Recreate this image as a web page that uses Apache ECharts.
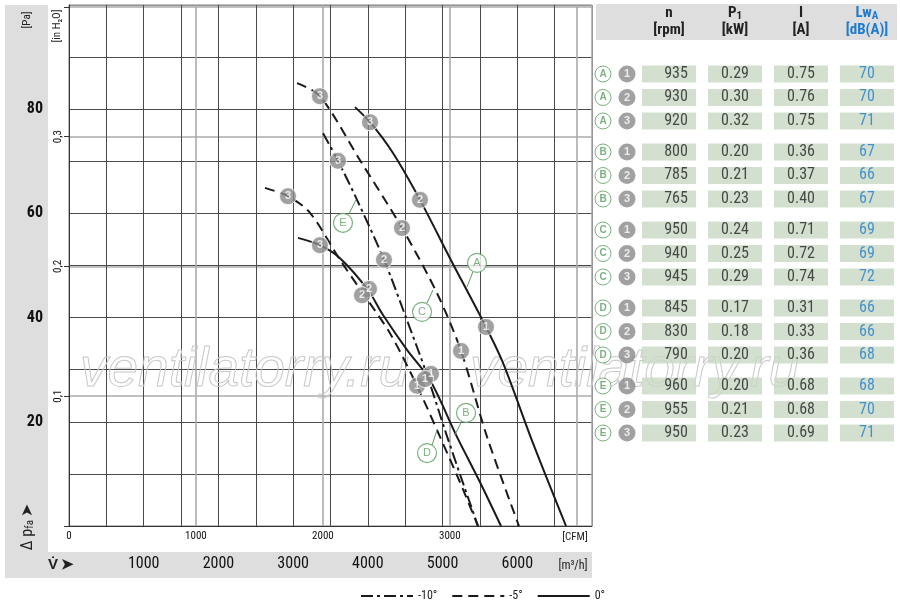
<!DOCTYPE html>
<html><head><meta charset="utf-8">
<script src="https://cdn.jsdelivr.net/npm/echarts@6/dist/echarts.min.js"></script>
<style>html,body{margin:0;padding:0;background:#fff}#c{width:900px;height:600px}</style>
</head><body><div id="c"></div>
<script>
// ---- fan curves: [airflow m3/h, static pressure Pa] ----
const curveA = [[3828,80.4],[4029,77.5],[4336,71.6],[4698,62.6],[5099,51.4],[5581,38.2],[5809,31.3],[6210,15.9],[6652,0]];
const curveB = [[3065,55.3],[3359,53.9],[3627,51.4],[4002,45.3],[4203,40.5],[4524,33.8],[4832,28.0],[5193,17.1],[5501,8.4],[5782,0]];
const curveC = [[3052,85.0],[3359,82.5],[3895,70.2],[4457,57.2],[4925,44.7],[5247,33.6],[5595,17.1],[6023,0]];
const curveD = [[2623,64.9],[2931,63.3],[3226,60.1],[3627,51.1],[3922,44.9],[4296,37.0],[4658,26.9],[4966,17.1],[5233,8.4],[5474,0]];
const curveE = [[3400,75.4],[3600,70.1],[3855,62.6],[4216,51.1],[4524,39.5],[4792,29.0],[5032,18.4],[5260,8.8],[5474,0]];
// operating points 1,2,3 on each curve
const pointsA = [[5581,38.2,'1'],[4698,62.6,'2'],[4029,77.5,'3']];
const pointsB = [[4845,29.2,'1'],[4015,45.5,'2'],[3359,53.9,'3']];
const pointsC = [[5247,33.6,'1'],[4457,57.2,'2'],[3359,82.5,'3']];
const pointsD = [[4658,26.9,'1'],[3922,44.3,'2'],[2931,63.3,'3']];
const pointsE = [[4765,28.2,'1'],[4216,51.1,'2'],[3600,70.1,'3']];
// curve tags (letter bubble + leader line end points)
const tagLetters = ['A','B','C','D','E'];
const tagPos = [[5461,50.5],[5314,21.7],[4725,41.1],[4792,14.0],[3667,58.2]];
const tagLeaders = [[[5407,48.8],[5327,45.9]],[[5260,20.2],[5166,17.5]],[[4792,42.8],[4872,45.3]],[[4859,15.5],[4926,18.4]],[[3748,59.9],[3841,62.6]]];
// angle of blades per curve
const curveAngles = ['0°','0°','-5°','-5°','-10°'];
const legendNames = ['-10°','-5°','0°'];
// axis ticks
const m3hTicks = [1000,2000,3000,4000,5000,6000];
const cfmTicks = [0,1000,2000,3000];
const paTicks = [20,40,60,80];
const inH2OTicks = [0.1,0.2,0.3];
// table data (rows grouped by curve A..E, points 1..3)
const rpm      = [[935,930,920],[800,785,765],[950,940,945],[845,830,790],[960,955,950]];
const powerKW  = [['0.29','0.30','0.32'],['0.20','0.21','0.23'],['0.24','0.25','0.29'],['0.17','0.18','0.20'],['0.20','0.21','0.23']];
const currentA = [['0.75','0.76','0.75'],['0.36','0.37','0.40'],['0.71','0.72','0.74'],['0.31','0.33','0.36'],['0.68','0.68','0.69']];
const soundLw  = [[70,70,71],[67,66,67],[69,69,72],[66,66,68],[68,70,71]];
const tableCols = ['', 'n', 'P1', 'I', 'LwA'];

const FONT = '"Liberation Sans Narrow","Roboto Condensed","Arial Narrow","Liberation Sans",sans-serif';
const GREEN = '#5a9e5f';
const BADGE = '#8a8a8a';
const BLUE = '#1f7ccc';
const CFM_PER_M3H = 1/1.699;
const PA_PER_INH2O = 249.089;

const chart = echarts.init(document.getElementById('c'));

const curves = [curveA, curveB, curveC, curveD, curveE];
const dashFor = {'0°':'solid','-5°':[10,6],'-10°':[12,4,3,4]};
const lineSeries = curves.map((d,i) => ({
  type:'line', name: curveAngles[i], data: d, smooth: 0.3, showSymbol:false, symbol:'none',
  xAxisIndex:0, yAxisIndex:0, z:3,
  lineStyle:{color:'#1a1a1a', width:2, type: dashFor[curveAngles[i]]},
  itemStyle:{color:'#1a1a1a'}
}));

const allPoints = [].concat(pointsA, pointsB, pointsC, pointsD, pointsE);
const badgeSeries = {
  type:'scatter', data: allPoints, xAxisIndex:0, yAxisIndex:0, symbolSize:17, z:5,
  itemStyle:{color:BADGE, borderColor:'#fff', borderWidth:1},
  label:{show:true, position:'inside', formatter:p=>p.value[2], color:'#fff', fontWeight:'bold', fontSize:11, fontFamily:'Liberation Sans'},
  silent:true
};
const leaderData = [];
tagLeaders.forEach(seg => { leaderData.push(seg[0], seg[1], null); });
const leaderSeries = {
  type:'line', data: leaderData, xAxisIndex:0, yAxisIndex:0, symbol:'none', connectNulls:false, z:4,
  lineStyle:{color:GREEN, width:1}, silent:true
};
const tagSeries = {
  type:'scatter', data: tagPos.map((p,i)=>[p[0],p[1],tagLetters[i]]), xAxisIndex:0, yAxisIndex:0, symbolSize:19, z:5,
  itemStyle:{color:'#fff', borderColor:GREEN, borderWidth:1.2},
  label:{show:true, position:'inside', formatter:p=>p.value[2], color:GREEN, fontSize:11, fontFamily:'Liberation Sans'},
  silent:true
};

// table rows: y = group*3.32 + index
const GROUP_STEP = 3.32;
const rowY = (g,i) => g*GROUP_STEP + i;
const tableSeries = [];
const cols = [rpm, powerKW, currentA, soundLw];
cols.forEach((arr, c) => {
  const data = [];
  arr.forEach((grp,g)=>grp.forEach((v,i)=>data.push([c+1, rowY(g,i), String(v)])));
  tableSeries.push({
    type:'scatter', xAxisIndex:2, yAxisIndex:2, data, symbol:'rect', symbolSize:[54,17], clip:false, z:2,
    itemStyle:{color:'#c8d8c4'},
    label:{show:true, position:'inside', formatter:p=>p.value[2], fontSize:16, fontFamily:FONT,
      color: c===3 ? BLUE : '#222', offset: c===0 ? [7,0] : [0,0]},
    silent:true
  });
});
const letterRows = [], numRows = [];
tagLetters.forEach((L,g)=>{ for(let i=0;i<3;i++){ letterRows.push([0,rowY(g,i),L]); numRows.push([0,rowY(g,i),String(i+1)]); } });
tableSeries.push({
  type:'scatter', xAxisIndex:2, yAxisIndex:2, data:letterRows, symbolSize:16, clip:false, z:2,
  itemStyle:{color:'#fff', borderColor:GREEN, borderWidth:1},
  label:{show:true, position:'inside', formatter:p=>p.value[2], color:GREEN, fontSize:10, fontWeight:'bold', fontFamily:'Liberation Sans'},
  silent:true
});
tableSeries.push({
  type:'scatter', xAxisIndex:2, yAxisIndex:2, data:numRows, symbolSize:17, symbolOffset:[24,0], clip:false, z:2,
  itemStyle:{color:BADGE},
  label:{show:true, position:'inside', formatter:p=>p.value[2], color:'#fff', fontSize:11, fontWeight:'bold', fontFamily:'Liberation Sans'},
  silent:true
});

const headerFmt = {
  'n':'{h|n}\n{h|[rpm]}',
  'P1':'{h|P}{s|1}\n{h|[kW]}',
  'I':'{h|I}\n{h|[A]}',
  'LwA':'{b|Lw}{bs|A}\n{b|[dB(A)]}',
  '':''
};

const wm = (x) => ({type:'text', x, y:398, z:1, silent:true,
  style:{text:'ventilatorry.ru', font:'italic 55px "Liberation Sans", sans-serif', fill:'rgba(255,255,255,0)', stroke:'#c8c8c8', lineWidth:1, verticalAlign:'bottom'}});

const option = {
  animation:false,
  backgroundColor:'#fff',
  textStyle:{fontFamily:FONT},
  grid:[
    {left:69, top:5, width:523, height:521},
    {left:570, top:74, width:331, height:359}
  ],
  legend:{
    data:legendNames, left:355, top:585, itemWidth:52, itemHeight:10, itemGap:14,
    itemStyle:{opacity:0},
    textStyle:{fontSize:12, color:'#222', fontFamily:FONT}, selectedMode:false
  },
  xAxis:[
    {gridIndex:0, type:'value', min:0, max:7000, interval:500, position:'bottom', offset:0,
     axisLine:{show:true, lineStyle:{color:'#333', width:1}}, axisTick:{show:false},
     axisLabel:{margin:30, fontSize:16, color:'#111', fontFamily:FONT,
       formatter:v=> m3hTicks.includes(v) ? String(v) : ''},
     splitLine:{show:true, lineStyle:{color:'#4a4a4a', width:1}}},
    {gridIndex:0, type:'value', min:0, max:7000*CFM_PER_M3H, interval:1000, position:'bottom', offset:0,
     axisLine:{show:false}, axisTick:{show:false},
     axisLabel:{margin:5, fontSize:11, color:'#111', fontFamily:FONT, showMaxLabel:false,
       formatter:v=> cfmTicks.includes(v) ? String(v) : ''},
     splitLine:{show:true, lineStyle:{color:'#ababab', width:1.6}}},
    {gridIndex:1, type:'category', data:tableCols, position:'top', boundaryGap:true,
     axisLine:{show:false}, axisTick:{show:false}, splitLine:{show:false},
     axisLabel:{margin:35, interval:0, formatter:v=>headerFmt[v],
       rich:{
         h:{fontSize:15, fontWeight:'bold', color:'#222', lineHeight:17, fontFamily:FONT},
         s:{fontSize:11, fontWeight:'bold', color:'#222', lineHeight:17, verticalAlign:'bottom', fontFamily:FONT},
         b:{fontSize:15, fontWeight:'bold', color:BLUE, lineHeight:17, fontFamily:FONT},
         bs:{fontSize:11, fontWeight:'bold', color:BLUE, lineHeight:17, verticalAlign:'bottom', fontFamily:FONT}
       }}}
  ],
  yAxis:[
    {gridIndex:0, type:'value', min:0, max:100, interval:10, position:'left', offset:0,
     axisLine:{show:true, lineStyle:{color:'#333', width:1}}, axisTick:{show:false},
     axisLabel:{margin:26, fontSize:16, fontWeight:'bold', color:'#111', fontFamily:FONT,
       formatter:v=> paTicks.includes(v) ? String(v) : ''},
     splitLine:{show:true, lineStyle:{color:'#4a4a4a', width:1}}},
    {gridIndex:0, type:'value', min:0, max:100/PA_PER_INH2O, interval:0.1, position:'left', offset:0,
     axisLine:{show:false}, axisTick:{show:true, length:5, lineStyle:{color:'#333'}},
     axisLabel:{margin:5, fontSize:11, color:'#111', rotate:90, fontFamily:FONT, showMaxLabel:false,
       formatter:v=> inH2OTicks.some(t=>Math.abs(t-v)<1e-6) ? v.toFixed(1).replace('.',',') : ''},
     splitLine:{show:true, lineStyle:{color:'#ababab', width:1.6}}},
    {gridIndex:1, type:'value', inverse:true, min:0, max:4*GROUP_STEP+2, show:false}
  ],
  graphic:[
    {type:'rect', z:-10, silent:true, shape:{x:5,y:5,width:43,height:573}, style:{fill:'#dedede'}},
    {type:'rect', z:-10, silent:true, shape:{x:5,y:552,width:587,height:26}, style:{fill:'#dedede'}},
    {type:'rect', z:-10, silent:true, shape:{x:596,y:4,width:301,height:36}, style:{fill:'#dedede'}},
    {type:'text', x:27, y:20, rotation:Math.PI/2, silent:true,
     style:{text:'[Pa]', font:'11px '+FONT, fill:'#222', align:'center', verticalAlign:'middle'}},
    {type:'text', x:57, y:26, rotation:Math.PI/2, silent:true,
     style:{text:'[in H₂O]', font:'11px '+FONT, fill:'#222', align:'center', verticalAlign:'middle'}},
    {type:'text', x:28, y:527, rotation:Math.PI/2, silent:true,
     style:{text:'{a|Δ p}{s|fa} {a|➤}', align:'center', verticalAlign:'middle',
       rich:{a:{fontSize:16, fill:'#222', fontFamily:FONT}, s:{fontSize:11, fill:'#222', fontFamily:FONT, verticalAlign:'bottom'}}}},
    {type:'text', x:48, y:565, silent:true,
     style:{text:'V̇ ➤', font:'bold 15px '+FONT, fill:'#222', align:'left', verticalAlign:'middle'}},
    {type:'text', x:573, y:566, silent:true,
     style:{text:'[m³/h]', font:'12px '+FONT, fill:'#222', align:'center', verticalAlign:'middle'}},
    {type:'text', x:575, y:537, silent:true,
     style:{text:'[CFM]', font:'11px '+FONT, fill:'#222', align:'center', verticalAlign:'middle'}},
    wm(80), wm(470)
  ],
  series: [].concat(lineSeries, [leaderSeries, badgeSeries, tagSeries], tableSeries)
};
chart.setOption(option);
</script></body></html>
